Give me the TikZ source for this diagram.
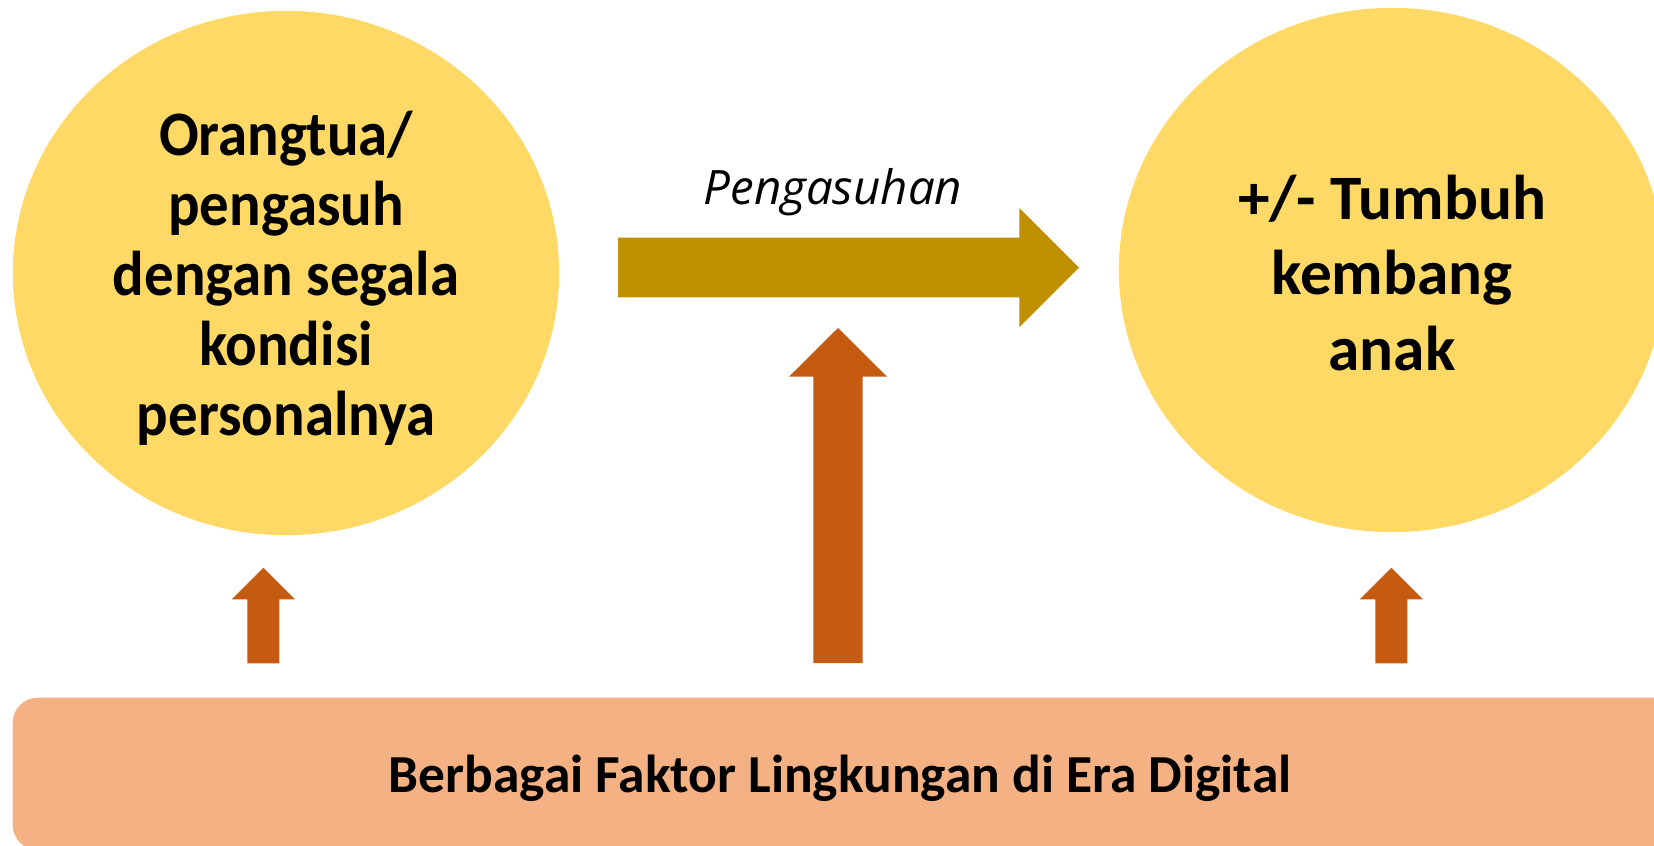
\documentclass[tikz,border=0pt]{standalone}
\usepackage{fontspec}
\setmainfont{Carlito}
\newfontfamily\narrowfont[FakeStretch=0.93]{Carlito}
\newfontfamily\captfont{Open Sans}
\usetikzlibrary{shapes.geometric}
\definecolor{bubblefill}{HTML}{FFD966}
\definecolor{carefill}{HTML}{BF9000}
\definecolor{envarrow}{HTML}{C55A11}
\definecolor{envfill}{HTML}{F4B183}
\tikzset{
  bubble/.style={ellipse,fill=bubblefill,minimum width=5.46cm,minimum height=5.24cm,inner sep=0pt},
  bubtext/.style={align=center,inner sep=0pt,font=\fontsize{18}{19.9}\selectfont\bfseries},
}
\begin{document}
\begin{tikzpicture}[x=0.01cm,y=-0.01cm]
  \useasboundingbox (0,0) rectangle (1654,845);
  % the two circles
  \node[bubble] (parent) at (286,273) {};
  \node[bubble] (growth) at (1392,270) {};
  \node[bubtext,font=\narrowfont\fontsize{18}{19.9}\selectfont\bfseries] (parenttxt) at (286,278) {Orangtua/\\pengasuh\\dengan segala\\kondisi\\personalnya};
  \node[bubtext,font=\fontsize{18}{21.6}\selectfont\bfseries] (growthtxt) at (1392,273) {+/- Tumbuh\\kembang\\anak};
  % parenting arrow
  \fill[carefill] (618,237.7) -- (1019.3,237.7) -- (1019.3,208) -- (1079,267.6) -- (1019.3,327.2) -- (1019.3,297.3) -- (618,297.3) -- cycle;
  \node[anchor=base,inner sep=0pt,font=\captfont\itshape\fontsize{13.5}{15}\selectfont] (care) at (833,204.3) {Pengasuhan};
  % environment box
  \fill[envfill,rounded corners=0.25cm] (12.7,697.7) rectangle (1680,850);
  \node[anchor=base,inner sep=0pt,font=\fontsize{15.2}{17}\selectfont\bfseries] (env) at (840,792.7) {Berbagai Faktor Lingkungan di Era Digital};
  % arrows from the environment
  \fill[envarrow] (813.3,663) -- (813.3,376.7) -- (789,376.7) -- (838,328) -- (887,376.7) -- (862.7,376.7) -- (862.7,663) -- cycle;
  \foreach \cx in {263.3,1391.3}
    \fill[envarrow] (\cx-16,663.3) -- (\cx-16,599.3) -- (\cx-31.6,599.3) -- (\cx,567.7) -- (\cx+31.6,599.3) -- (\cx+16,599.3) -- (\cx+16,663.3) -- cycle;
\end{tikzpicture}
\end{document}
